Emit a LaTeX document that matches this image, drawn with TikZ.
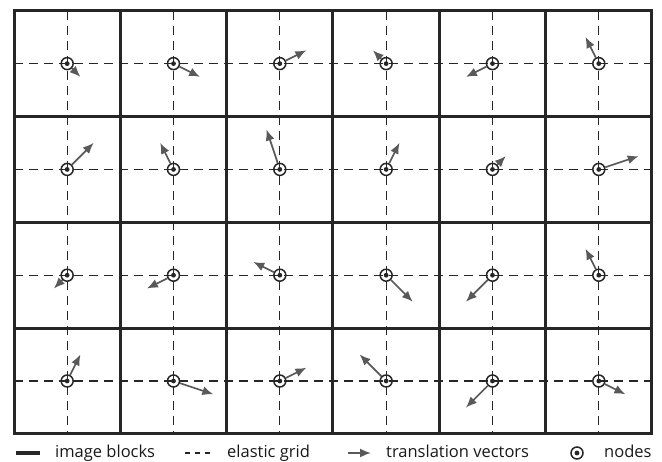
\documentclass[tikz,border=0pt]{standalone}
\usepackage{fontspec}
\setmainfont{Open Sans}
\usetikzlibrary{arrows.meta}
\begin{document}
\begin{tikzpicture}[x=1pt,y=-1pt,
  block/.style={line width=3pt, draw=black!85},
  elastic/.style={line width=1.3pt, dash pattern=on 9pt off 6pt, draw=black!85},
  vec/.style={line width=1.7pt, draw=black!65, -{Latex[length=11pt,width=9pt]}},
  gnode/.style={circle, draw=black!85, line width=1.5pt, minimum size=12pt, inner sep=0pt,
    path picture={\fill[black!85] (path picture bounding box.center) circle (2.4pt);}},
  lbl/.style={font=\fontsize{16.5}{18}\selectfont, text=black!90, anchor=base west, inner sep=0pt}
]
\useasboundingbox (0,0) rectangle (662,461);
\def\X{14}\def\Y{10.7}\def\W{106.33}\def\H{105.8}
% elastic grid
\foreach \c in {0,...,5}
  \draw[elastic] ({\X+\W*(\c+0.5)},\Y) -- ({\X+\W*(\c+0.5)},{\Y+4*\H});
\foreach \r in {0,...,3}
  \draw[elastic] (\X,{\Y+\H*(\r+0.5)}) -- ({\X+6*\W},{\Y+\H*(\r+0.5)});
% image blocks
\foreach \c in {1,...,5}
  \draw[block] ({\X+\W*\c},\Y) -- ({\X+\W*\c},{\Y+4*\H});
\foreach \r in {1,...,3}
  \draw[block] (\X,{\Y+\H*\r}) -- ({\X+6*\W},{\Y+\H*\r});
\draw[block] (\X,\Y) rectangle ({\X+6*\W},{\Y+4*\H});
% nodes
\foreach \r in {1,...,4}
  \foreach \c in {1,...,6}
    \node[gnode] (n-\r-\c) at ({\X+\W*(\c-0.5)},{\Y+\H*(\r-0.5)}) {};
% translation vectors (units of 1/8 cell, x right, y up)
\foreach \r/\c/\dx/\dy in {
  1/1/1/-1, 1/2/2/-1, 1/3/2/1, 1/4/-1/1, 1/5/-2/-1, 1/6/-1/2,
  2/1/2/2, 2/2/-1/2, 2/3/-1/3, 2/4/1/2, 2/5/1/1, 2/6/3/1,
  3/1/-1/-1, 3/2/-2/-1, 3/3/-2/1, 3/4/2/-2, 3/5/-2/-2, 3/6/-1/2,
  4/1/1/2, 4/2/3/-1, 4/3/2/1, 4/4/-2/2, 4/5/-2/-2, 4/6/2/-1}{
  \path (n-\r-\c.center) ++({\dx*13.3},{-\dy*13.3}) coordinate (t-\r-\c);
  \draw[vec] (n-\r-\c) -- (t-\r-\c);
}
% legend
\coordinate (la) at (16,453); \coordinate (lb) at (40,453);
\draw[line width=3.5pt, draw=black!85] (la) -- (lb);
\node[lbl] (t1) at (55,457) {image blocks};
\coordinate (lc) at (185,453); \coordinate (ld) at (210,453);
\draw[line width=1.3pt, draw=black!85, dash pattern=on 5pt off 5pt] (lc) -- (ld);
\node[lbl] (t2) at (227,457) {elastic grid};
\coordinate (le) at (348,453); \coordinate (lf) at (371,453);
\draw[vec] (le) -- (lf);
\node[lbl] (t3) at (386,457) {translation vectors};
\node[gnode] (ln) at (577,453) {};
\node[lbl] (t4) at (604,457) {nodes};
\end{tikzpicture}
\end{document}
